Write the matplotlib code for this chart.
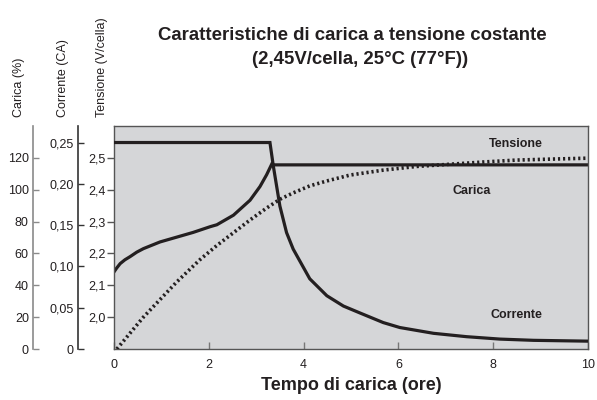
import matplotlib
matplotlib.use("Agg")
import matplotlib.pyplot as plt

plt.rcParams['font.family'] = ['Liberation Sans', 'DejaVu Sans']

# --- data ---
t_volt = [0, 0.056, 0.13, 0.23, 0.34, 0.48, 0.62, 0.97, 1.32, 1.67, 2.03, 2.17, 2.52, 2.87, 3.08, 3.22, 3.33, 3.38, 10]
volt = [2.142, 2.154, 2.168, 2.18, 2.19, 2.204, 2.215, 2.236, 2.251, 2.266, 2.284, 2.29, 2.32, 2.367, 2.41, 2.447, 2.481, 2.478, 2.478]

t_curr = [0, 3.29, 3.36, 3.5, 3.64, 3.78, 4.13, 4.49, 4.84, 5.19, 5.68, 6.03, 6.74, 7.44, 8.14, 8.85, 10]
curr = [0.25, 0.25, 0.222, 0.173, 0.141, 0.121, 0.085, 0.0645, 0.052, 0.0436, 0.032, 0.026, 0.019, 0.0149, 0.012, 0.0105, 0.0095]

t_charge = [0.06, 0.62, 1.32, 1.81, 2.17, 2.52, 2.87, 3.22, 3.5, 3.78, 4.13, 4.49, 4.98, 5.68, 6.38, 7.09, 7.79, 8.49, 9.2, 10]
charge = [0, 20, 42, 56, 65, 73, 81, 88.5, 94, 98, 102.4, 105.5, 109.2, 112.3, 114.6, 116, 117.4, 118.6, 119.2, 119.8]

x_ticks = [0, 2, 4, 6, 8, 10]
volt_ticks = [2.0, 2.1, 2.2, 2.3, 2.4, 2.5]
volt_labels = ['2,0', '2,1', '2,2', '2,3', '2,4', '2,5']
curr_ticks = [0, 0.05, 0.10, 0.15, 0.20, 0.25]
curr_labels = ['0', '0,05', '0,10', '0,15', '0,20', '0,25']
charge_ticks = [0, 20, 40, 60, 80, 100, 120]

INK = '#231f20'
BG = '#d5d6d8'

W, H = 597, 400
fig = plt.figure(figsize=(W / 100, H / 100), dpi=100)
ax = fig.add_axes([114 / W, 51 / H, 474 / W, 223 / H])
ax.set_facecolor(BG)

ax_i = ax.twinx()
ax_c = ax.twinx()

# voltage on the main axis
ax.plot(t_volt, volt, color=INK, lw=2.3, solid_joinstyle='miter')
ax.set_xlim(0, 10)
ax.set_ylim(1.9, 2.6)
ax.set_xticks(x_ticks)
ax.set_yticks(volt_ticks)
ax.set_yticklabels(volt_labels)
ax.tick_params(axis='x', direction='in', length=5, width=1, color='#777777',
               pad=7, labelsize=9, labelcolor=INK)
ax.tick_params(axis='y', direction='out', length=5, width=1, color='#555555',
               pad=1, labelsize=9, labelcolor=INK)
for s in ax.spines.values():
    s.set_color('#555555')
    s.set_linewidth(1)

# current and charge on offset axes
ax_i.plot(t_curr, curr, color=INK, lw=2.3, solid_joinstyle='miter')
ax_i.set_ylim(0, 0.27)
ax_i.set_yticks(curr_ticks)
ax_i.set_yticklabels(curr_labels)

ax_c.plot(t_charge, charge, color=INK, lw=2.6, linestyle=(0, (0.6, 0.8)),
          dash_capstyle='butt')
ax_c.set_ylim(0, 140)
ax_c.set_yticks(charge_ticks)

for a, off, col in [(ax_i, 36, '#333333'), (ax_c, 81, '#8a8a8a')]:
    a.yaxis.set_ticks_position('left')
    a.spines['left'].set_visible(True)
    a.spines['left'].set_position(('outward', off * 0.72))
    a.spines['left'].set_color(col)
    a.spines['left'].set_linewidth(1.2)
    for k in ['right', 'top', 'bottom']:
        a.spines[k].set_visible(False)
    a.tick_params(axis='y', direction='in', length=4, width=1, color=col,
                  pad=3, labelsize=9, labelcolor=INK)

# curve labels
ax.text(8.48, 2.544, 'Tensione', fontsize=9, fontweight='bold', color=INK,
        ha='center', va='center')
ax.text(7.55, 2.396, 'Carica', fontsize=9, fontweight='bold', color=INK,
        ha='center', va='center')
ax.text(8.5, 2.006, 'Corrente', fontsize=9, fontweight='bold', color=INK,
        ha='center', va='center')

# axis titles above the spines
fig.text(19 / W, 1 - 117 / H, 'Carica (%)', rotation=90, fontsize=9,
         color=INK, ha='center', va='bottom')
fig.text(63 / W, 1 - 117 / H, 'Corrente (CA)', rotation=90, fontsize=9,
         color=INK, ha='center', va='bottom')
fig.text(102 / W, 1 - 117 / H, 'Tensione (V/cella)', rotation=90, fontsize=9,
         color=INK, ha='center', va='bottom')

fig.text(352 / W, 1 - 35 / H, 'Caratteristiche di carica a tensione costante',
         fontsize=13.4, fontweight='bold', color=INK, ha='center', va='center')
fig.text(360 / W, 1 - 60 / H, '(2,45V/cella, 25°C (77°F))',
         fontsize=13.4, fontweight='bold', color=INK, ha='center', va='center')
fig.text(351 / W, 1 - 385 / H, 'Tempo di carica (ore)',
         fontsize=13, fontweight='bold', color=INK, ha='center', va='center')

fig.savefig('out.png', dpi=100)
